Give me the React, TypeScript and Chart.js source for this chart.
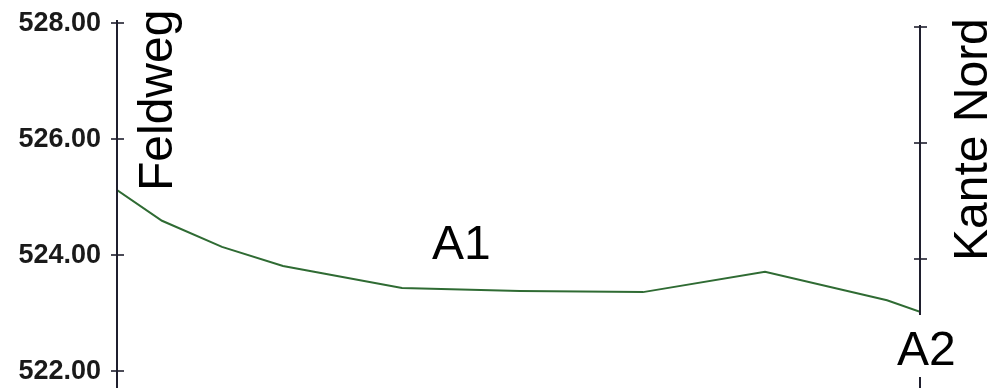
import React, { useEffect, useRef } from "react";
import { Chart, registerables } from "chart.js";

Chart.register(...registerables);

// Station along the profile (relative distance) and terrain elevation
const stations: number[] = [0, 4.5, 10.5, 16.6, 28.5, 40.3, 52.6, 64.8, 77.0, 80.3];
const elevations: number[] = [525.12, 524.59, 524.14, 523.81, 523.43, 523.38, 523.36, 523.71, 523.22, 523.02];
const yTicks: number[] = [522, 524, 526, 528];
const leftLabel = "Feldweg";
const rightLabel = "Kante Nord";
const startPoint = "A1";
const endPoint = "A2";

const AXIS_COLOR = "#1f1f2e";
const LINE_COLOR = "#2f6b33";
const TEXT_FONT = "48px 'Liberation Sans', Arial, sans-serif";
const TICK_FONT = "bold 27px 'Liberation Sans', Arial, sans-serif";

const profilePlugin = {
  id: "profileDecor",
  afterDraw(chart: any) {
    const ctx = chart.ctx as CanvasRenderingContext2D;
    const y = chart.scales.y;
    const x = chart.scales.x;
    const area = chart.chartArea;
    const H = chart.height;
    const xl = x.getPixelForValue(stations[0]);
    const xr = x.getPixelForValue(stations[stations.length - 1]);
    const yTop = y.getPixelForValue(yTicks[yTicks.length - 1]);

    ctx.save();
    ctx.strokeStyle = AXIS_COLOR;
    ctx.lineWidth = 2;
    // left axis
    ctx.beginPath();
    ctx.moveTo(xl, yTop - 3);
    ctx.lineTo(xl, H);
    ctx.stroke();
    // right axis
    ctx.beginPath();
    ctx.moveTo(xr, yTop + 2);
    ctx.lineTo(xr, H);
    ctx.stroke();
    // crossing ticks and tick labels
    ctx.lineWidth = 1.6;
    ctx.font = TICK_FONT;
    ctx.fillStyle = "#1a1a1a";
    ctx.textAlign = "right";
    ctx.textBaseline = "middle";
    for (const t of yTicks) {
      const py = y.getPixelForValue(t);
      ctx.beginPath();
      ctx.moveTo(xl - 6, py);
      ctx.lineTo(xl + 7, py);
      ctx.stroke();
      ctx.fillText(t.toFixed(2), xl - 16, py + 1);
      if (t > yTicks[0]) {
        ctx.beginPath();
        ctx.moveTo(xr - 6, py + 4);
        ctx.lineTo(xr + 7, py + 4);
        ctx.stroke();
      }
    }

    ctx.fillStyle = "#000";
    ctx.font = TEXT_FONT;
    ctx.textAlign = "left";
    ctx.textBaseline = "alphabetic";

    // Feldweg rotated
    ctx.save();
    ctx.translate(xl + 55, area.top + 168);
    ctx.rotate(-Math.PI / 2);
    ctx.fillText(leftLabel, 0, 0);
    ctx.restore();

    // Kante Nord rotated
    ctx.save();
    ctx.translate(xr + 67, area.top + 238);
    ctx.rotate(-Math.PI / 2);
    ctx.fillText(rightLabel, 0, 0);
    ctx.restore();

    // A1
    ctx.fillText(startPoint, xl + 315, area.top + 236);

    // A2 with white box
    ctx.fillStyle = "#ffffff";
    ctx.fillRect(xr - 35, area.top + 292, 80, 62);
    ctx.fillStyle = "#000";
    ctx.fillText(endPoint, xr - 23, area.top + 342);

    ctx.restore();
  },
};

export default function App() {
  const ref = useRef<HTMLCanvasElement | null>(null);

  useEffect(() => {
    document.body.style.margin = "0";
    const canvas = ref.current;
    if (!canvas) return;
    const chart = new Chart(canvas, {
      type: "line",
      data: {
        datasets: [
          {
            data: stations.map((s, i) => ({ x: s, y: elevations[i] })),
            borderColor: LINE_COLOR,
            borderWidth: 2,
            pointRadius: 0,
            tension: 0,
            fill: false,
          },
        ],
      },
      options: {
        animation: false,
        responsive: false,
        devicePixelRatio: 1,
        layout: { padding: { top: 23, bottom: 17, left: 117, right: 78 } },
        plugins: {
          legend: { display: false },
          tooltip: { enabled: false },
          title: { display: false },
        },
        scales: {
          x: {
            type: "linear",
            min: stations[0],
            max: stations[stations.length - 1],
            display: false,
          },
          y: {
            type: "linear",
            min: yTicks[0],
            max: yTicks[yTicks.length - 1],
            display: false,
          },
        },
      },
      plugins: [profilePlugin],
    });
    return () => chart.destroy();
  }, []);

  return (
    <div style={{ position: "absolute", left: 0, top: 0, width: 998, height: 388, background: "#fff" }}>
      <canvas ref={ref} width={998} height={388} />
    </div>
  );
}
